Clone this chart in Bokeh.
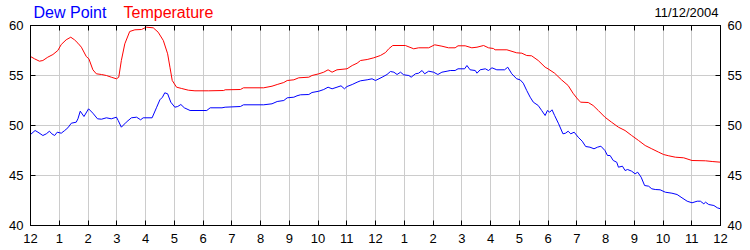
from bokeh.plotting import figure
from bokeh.layouts import column
from bokeh.models import Range1d, FixedTicker, LinearAxis
from bokeh.core.properties import value
from bokeh.embed import file_html
from bokeh.resources import INLINE

# ---- data (hours since midnight, degrees F) ----
temp_hours = [0, 0.14, 0.31, 0.43, 0.60, 0.78, 0.95, 1.07, 1.24, 1.40, 1.53, 1.65, 1.77, 1.94, 2.03,
              2.17, 2.29, 2.47, 2.64, 2.81, 2.99, 3.07, 3.16, 3.28, 3.45, 3.63, 3.86, 4.03, 4.27, 4.44,
              4.62, 4.77, 4.85, 4.93, 5.08, 5.26, 5.49, 5.72, 6.20, 6.72, 6.77, 7.30, 7.41, 8.11, 8.40,
              8.58, 8.81, 8.93, 9.16, 9.33, 9.68, 9.79, 10.03, 10.20, 10.35, 10.49, 10.66, 11.01, 11.19,
              11.36, 11.48, 11.71, 11.94, 12.17, 12.35, 12.46, 12.60, 13.04, 13.33, 13.50, 13.85, 14.06,
              14.31, 14.54, 14.77, 14.87, 15.12, 15.35, 15.53, 15.76, 15.93, 16.10, 16.16, 16.57, 16.91,
              17.09, 17.26, 17.43, 17.66, 17.90, 18.00, 18.23, 18.47, 18.70, 18.87, 19.05, 19.14, 19.40,
              19.57, 19.75, 19.98, 20.21, 20.45, 20.68, 20.91, 21.15, 21.38, 21.61, 21.85, 22.02, 22.20,
              22.43, 22.72, 23.01, 23.48, 23.71, 24.0]
temp_values = [56.9, 56.67, 56.43, 56.5, 56.83, 57.1, 57.5, 58.1, 58.57, 58.83, 58.57, 58.23, 57.83, 56.9,
               56.67, 55.57, 55.17, 55.1, 55.0, 54.83, 54.67, 54.83, 56.5, 58.17, 59.4, 59.57, 59.6, 59.83,
               59.77, 59.33, 58.5, 57.17, 55.83, 54.5, 53.83, 53.7, 53.53, 53.47, 53.47, 53.5, 53.57, 53.6,
               53.77, 53.77, 53.93, 54.1, 54.3, 54.5, 54.57, 54.77, 54.83, 55.0, 55.17, 55.33, 55.57, 55.33,
               55.57, 55.67, 56.0, 56.23, 56.5, 56.6, 56.77, 57.0, 57.3, 57.67, 58.0, 58.0, 57.67, 57.77,
               57.77, 58.07, 57.93, 57.77, 57.77, 57.97, 57.97, 57.77, 57.83, 58.0, 57.77, 57.7, 57.57,
               57.57, 57.27, 57.23, 57.0, 56.97, 56.5, 55.83, 55.67, 55.23, 54.57, 54.0, 53.23, 52.57,
               52.33, 52.3, 52.0, 51.5, 50.83, 50.33, 49.83, 49.5, 49.0, 48.5, 48.0, 47.67, 47.33, 47.1,
               46.97, 46.83, 46.77, 46.5, 46.47, 46.4, 46.33]

dew_hours = [0, 0.16, 0.26, 0.43, 0.55, 0.66, 0.74, 0.84, 0.93, 1.07, 1.19, 1.30, 1.42, 1.59, 1.65, 1.73,
             1.86, 2.02, 2.17, 2.33, 2.47, 2.64, 2.81, 2.99, 3.05, 3.16, 3.33, 3.51, 3.69, 3.83, 3.92, 4.23,
             4.38, 4.50, 4.59, 4.67, 4.77, 4.88, 5.02, 5.12, 5.23, 5.35, 5.55, 6.13, 6.25, 6.66, 6.77, 7.30,
             7.41, 8.11, 8.40, 8.58, 8.81, 8.93, 9.16, 9.27, 9.39, 9.68, 9.79, 10.03, 10.20, 10.35, 10.49,
             10.66, 10.80, 10.92, 11.01, 11.19, 11.36, 11.48, 11.71, 11.88, 12.0, 12.23, 12.40, 12.52,
             12.64, 12.75, 12.87, 12.98, 13.16, 13.24, 13.39, 13.50, 13.62, 13.71, 13.85, 14.02, 14.17,
             14.31, 14.49, 14.60, 14.77, 14.87, 15.10, 15.18, 15.29, 15.47, 15.53, 15.64, 15.82, 15.93,
             16.05, 16.22, 16.49, 16.60, 16.74, 16.91, 17.03, 17.14, 17.26, 17.38, 17.49, 17.66, 17.78,
             17.90, 17.98, 18.06, 18.14, 18.23, 18.37, 18.52, 18.61, 18.70, 18.79, 18.91, 19.05, 19.19,
             19.31, 19.46, 19.60, 19.72, 19.84, 19.98, 20.07, 20.16, 20.27, 20.39, 20.45, 20.59, 20.68,
             20.77, 20.91, 21.03, 21.12, 21.24, 21.36, 21.50, 21.61, 21.73, 21.90, 22.08, 22.31, 22.49,
             22.66, 22.84, 23.01, 23.19, 23.30, 23.42, 23.48, 23.59, 23.77, 23.89, 24.0]
dew_values = [49.1, 49.5, 49.33, 49.0, 49.17, 49.43, 49.17, 49.0, 49.33, 49.23, 49.5, 49.77, 50.23, 50.33,
              50.67, 51.43, 50.9, 51.67, 51.23, 50.67, 50.63, 50.77, 50.67, 50.83, 50.5, 49.83, 50.33,
              50.77, 50.83, 50.57, 50.77, 50.77, 51.77, 52.57, 52.83, 53.27, 53.17, 52.33, 51.83, 51.9,
              52.1, 51.77, 51.5, 51.5, 51.77, 51.77, 51.83, 51.9, 52.07, 52.07, 52.17, 52.4, 52.5, 52.77,
              52.83, 52.97, 53.07, 53.1, 53.3, 53.43, 53.6, 53.83, 53.67, 53.83, 53.97, 53.67, 53.9, 54.1,
              54.33, 54.47, 54.57, 54.67, 54.5, 54.83, 55.1, 55.4, 55.33, 55.1, 55.33, 55.07, 55.0, 54.83,
              55.17, 55.23, 55.5, 55.17, 55.43, 55.33, 55.1, 55.33, 55.43, 55.5, 55.5, 55.67, 55.67, 56.0,
              55.57, 55.5, 55.23, 55.57, 55.67, 55.5, 55.77, 55.57, 55.57, 55.83, 55.17, 54.67, 54.57,
              54.23, 53.5, 52.83, 52.33, 52.0, 51.5, 51.0, 51.5, 51.33, 51.57, 51.0, 50.17, 49.17, 49.23,
              49.43, 49.17, 49.33, 48.83, 48.43, 47.9, 47.83, 47.67, 47.83, 47.93, 47.5, 47.0, 47.0, 46.5,
              46.33, 45.83, 45.93, 45.5, 45.6, 45.43, 45.17, 45.33, 44.83, 44.0, 43.93, 43.67, 43.6, 43.57,
              43.33, 43.23, 43.1, 42.77, 42.43, 42.27, 42.43, 42.43, 42.17, 42.33, 42.1, 42.0, 41.77, 41.67]

hour_ticks = list(range(25))
hour_labels = ["12", "1", "2", "3", "4", "5", "6", "7", "8", "9", "10", "11",
               "12", "1", "2", "3", "4", "5", "6", "7", "8", "9", "10", "11", "12"]
y_ticks = [40, 45, 50, 55, 60]
series_names = ["Dew Point", "Temperature"]
series_colors = ["#0000ff", "#ff0000"]
date_text = "11/12/2004"

FONT = "Liberation Sans"
W, H = 750, 250
TOP, BOTTOM, LEFT, RIGHT = 25, 25, 30, 30

# ---------- header strip (legend texts + date), overlapped by the chart's transparent border ----------
hdr = figure(width=W, height=TOP, output_backend="svg", toolbar_location=None,
             x_range=Range1d(LEFT, W - RIGHT), y_range=Range1d(TOP, 0),
             x_axis_location=None, y_axis_location=None,
             min_border_left=LEFT, min_border_right=RIGHT,
             min_border_top=0, min_border_bottom=0)
hdr.outline_line_color = None
hdr.background_fill_color = "white"
hdr.border_fill_color = "white"
hdr.xgrid.visible = False
hdr.ygrid.visible = False

base = 12.0
hdr.text(x=[33], y=[base], text=[series_names[0]], text_color=series_colors[0],
         text_font=value(FONT), text_font_size=value("16px"), text_baseline="alphabetic",
         text_align="left")
hdr.text(x=[123], y=[base], text=[series_names[1]], text_color=series_colors[1],
         text_font=value(FONT), text_font_size=value("16px"), text_baseline="alphabetic",
         text_align="left")
hdr.text(x=[718], y=[base], text=[date_text], text_color="black",
         text_font=value(FONT), text_font_size=value("13px"), text_baseline="alphabetic",
         text_align="right")

# ---------- main chart ----------
p = figure(width=W, height=H, output_backend="svg", toolbar_location=None,
           x_range=Range1d(0, 24), y_range=Range1d(40, 60),
           x_axis_location=None, y_axis_location=None,
           min_border_left=LEFT, min_border_right=RIGHT, min_border_top=TOP,
           min_border_bottom=BOTTOM, margin=(-TOP, 0, 0, 0))
p.background_fill_color = "white"
p.border_fill_alpha = 0
p.outline_line_color = "black"
p.outline_line_width = 1

xt = FixedTicker(ticks=hour_ticks)
yt = FixedTicker(ticks=y_ticks)
overrides = {t: lab for t, lab in zip(hour_ticks, hour_labels)}


def style(ax, standoff=7, show=True):
    ax.axis_line_color = "black"
    ax.major_tick_line_color = "black"
    ax.major_tick_in = 5
    ax.major_tick_out = 0
    ax.minor_tick_line_color = None
    ax.major_label_text_font = FONT
    ax.major_label_standoff = standoff
    if show:
        ax.major_label_text_font_size = "13px"
        ax.major_label_text_color = "black"
    else:
        ax.major_label_text_font_size = "0px"
        ax.major_label_text_color = None


bx = LinearAxis(ticker=xt, major_label_overrides=overrides)
style(bx, 8)
p.add_layout(bx, "below")
tx = LinearAxis(ticker=xt)
style(tx, 0, show=False)
p.add_layout(tx, "above")
ly = LinearAxis(ticker=yt)
style(ly, 7)
p.add_layout(ly, "left")
ry = LinearAxis(ticker=yt)
style(ry, 7)
p.add_layout(ry, "right")

p.xgrid.ticker = xt
p.ygrid.ticker = yt
for g in (p.xgrid[0], p.ygrid[0]):
    g.grid_line_color = "#cccccc"
    g.grid_line_width = 1

p.line(dew_hours, dew_values, line_color=series_colors[0], line_width=1)
p.line(temp_hours, temp_values, line_color=series_colors[1], line_width=1)

layout = column(hdr, p, spacing=0)
open("out.html", "w").write(file_html(layout, INLINE))
